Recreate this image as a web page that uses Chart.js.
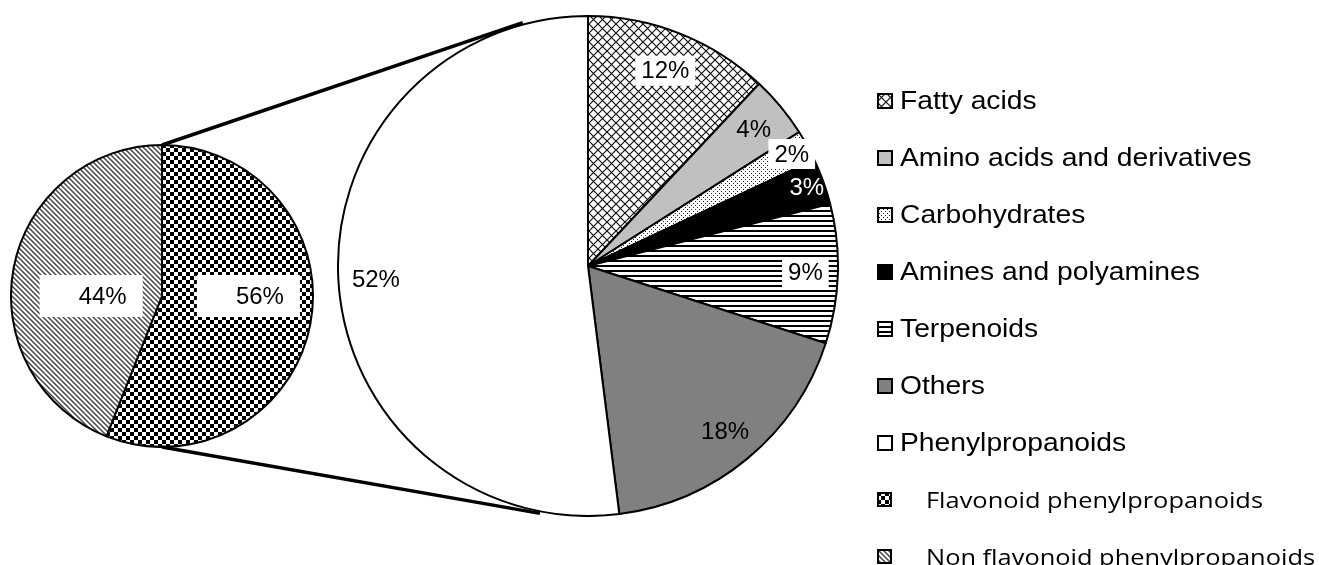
<!DOCTYPE html>
<html>
<head>
<meta charset="utf-8">
<script src="https://cdn.jsdelivr.net/npm/chart.js@4.4.1/dist/chart.umd.min.js"></script>
<style>
html, body { margin: 0; padding: 0; background: #fff; }
#wrap { position: relative; width: 1319px; height: 565px; overflow: hidden; font-family: "Liberation Sans", Arial, sans-serif; }
.pie { position: absolute; }
#lines { position: absolute; left: 0; top: 0; pointer-events: none; }
#legend { position: absolute; left: 877px; top: 72px; margin: 0; padding: 0; list-style: none; }
#legend li { height: 57px; display: flex; align-items: center; white-space: nowrap; }
#legend canvas { display: block; }
#legend .main span { display: inline-block; margin-left: 7px; font-size: 25px; transform: scaleX(1.13); transform-origin: left center; color: #000; }
#legend .sub span { display: inline-block; margin-left: 34px; font-family: "Open Sans", sans-serif; font-size: 21px; transform: scaleX(1.21); transform-origin: left center; color: #000; }
</style>
</head>
<body>
<div id="wrap">
  <div class="pie" style="left:10px;top:144px;width:304px;height:304px;"><canvas id="subChart"></canvas></div>
  <div class="pie" style="left:337px;top:15px;width:502px;height:502px;"><canvas id="mainChart"></canvas></div>
  <canvas id="lines" width="1319" height="565"></canvas>
  <ul id="legend"></ul>
</div>
<script>
// main pie (share of metabolites, %)
const mainLabels = ['Fatty acids', 'Amino acids and derivatives', 'Carbohydrates', 'Amines and polyamines', 'Terpenoids', 'Others', 'Phenylpropanoids'];
const mainValues = [12, 4, 2, 3, 9, 18, 52];

// secondary pie: split of phenylpropanoids (%)
const subLabels = ['Flavonoid phenylpropanoids', 'Non flavonoid phenylpropanoids'];
const subValues = [56, 44];

// fill patterns, same order as the labels
function makePattern(kind) {
    const c = document.createElement('canvas');
    const s = { cross: 9, dots: 4, hstripe: 5, checker: 8, diag: 5 }[kind];
    c.width = s; c.height = s;
    const g = c.getContext('2d');
    g.fillStyle = '#fff';
    g.fillRect(0, 0, s, s);
    g.fillStyle = '#000';
    if (kind === 'cross') {
        g.strokeStyle = '#111';
        g.lineWidth = 1.2;
        g.beginPath();
        g.moveTo(0, 0); g.lineTo(s, s);
        g.moveTo(s, 0); g.lineTo(0, s);
        g.stroke();
    } else if (kind === 'dots') {
        g.fillStyle = '#222';
        g.fillRect(0, 0, 1, 1);
        g.fillRect(2, 2, 1, 1);
    } else if (kind === 'hstripe') {
        g.fillRect(0, 0, s, 2);
    } else if (kind === 'checker') {
        g.fillRect(0, 0, 4, 4);
        g.fillRect(4, 4, 4, 4);
    } else if (kind === 'diag') {
        g.strokeStyle = '#444';
        g.lineWidth = 1.5;
        g.beginPath();
        for (let k = -1; k <= 1; k++) {
            g.moveTo(-1, k * s - 1);
            g.lineTo(s + 1, k * s + s + 1);
        }
        g.stroke();
    }
    return g.createPattern(c, 'repeat');
}

const mainFills = [makePattern('cross'), '#c0c0c0', makePattern('dots'), '#000000', makePattern('hstripe'), '#808080', '#ffffff'];
const subFills = [makePattern('checker'), makePattern('diag')];

// label placement along each slice (fraction of radius) and styling
const mainLabelRadius = [0.84, 0.86, 0.93, 0.93, 0.87, 0.86, 0.85];
const mainLabelBox = [true, false, true, false, true, false, false];
const mainLabelColor = ['#000', '#000', '#000', '#fff', '#000', '#000', '#000'];
const subLabelRadius = [0.66, 0.40];

function pctLabels(cfg) {
    return {
        id: 'pctLabels',
        afterDatasetsDraw(chart) {
            const ctx = chart.ctx;
            const meta = chart.getDatasetMeta(0);
            const vals = chart.data.datasets[0].data;
            ctx.save();
            ctx.font = '24px "Liberation Sans", Arial, sans-serif';
            ctx.textAlign = 'center';
            ctx.textBaseline = 'middle';
            meta.data.forEach((arc, i) => {
                const p = arc.getProps(['x', 'y', 'startAngle', 'endAngle', 'outerRadius'], true);
                const mid = (p.startAngle + p.endAngle) / 2;
                const r = p.outerRadius * cfg.radius[i];
                const x = p.x + Math.cos(mid) * r;
                const y = cfg.flat ? p.y : p.y + Math.sin(mid) * r;
                const text = vals[i] + '%';
                const w = ctx.measureText(text).width;
                if (cfg.box[i]) {
                    ctx.fillStyle = '#fff';
                    ctx.fillRect(x - w / 2 - cfg.padL, y - cfg.boxH / 2, w + cfg.padL + cfg.padR, cfg.boxH);
                }
                ctx.fillStyle = cfg.color[i];
                ctx.fillText(text, x, y + 1);
            });
            ctx.restore();
        }
    };
}

const baseOptions = {
    responsive: true,
    maintainAspectRatio: false,
    animation: false,
    layout: { padding: 0 },
    plugins: { legend: { display: false }, tooltip: { enabled: false } },
    events: []
};

const subChart = new Chart(document.getElementById('subChart'), {
    type: 'pie',
    data: {
        labels: subLabels,
        datasets: [{ data: subValues, backgroundColor: subFills, borderColor: '#000', borderWidth: 2, hoverOffset: 0 }]
    },
    options: baseOptions,
    plugins: [pctLabels({ radius: subLabelRadius, box: [true, true], color: ['#000', '#000'], flat: true, padL: 39, padR: 16, boxH: 42 })]
});

const mainChart = new Chart(document.getElementById('mainChart'), {
    type: 'pie',
    data: {
        labels: mainLabels,
        datasets: [{ data: mainValues, backgroundColor: mainFills, borderColor: '#000', borderWidth: 2, hoverOffset: 0 }]
    },
    options: baseOptions,
    plugins: [pctLabels({ radius: mainLabelRadius, box: mainLabelBox, color: mainLabelColor, flat: false, padL: 6, padR: 6, boxH: 30 })]
});

// connector lines between the two pies
function drawConnectors() {
    const wrap = document.getElementById('wrap').getBoundingClientRect();
    const sa = subChart.canvas.getBoundingClientRect();
    const ma = mainChart.canvas.getBoundingClientRect();
    const s = subChart.getDatasetMeta(0).data[0];
    const m = mainChart.getDatasetMeta(0).data[0];
    const sx = sa.left - wrap.left + s.x, sy = sa.top - wrap.top + s.y, sr = s.outerRadius;
    const mx = ma.left - wrap.left + m.x, my = ma.top - wrap.top + m.y, mr = m.outerRadius + 2;
    const deg = Math.PI / 180;
    const topA = -90 - 15, botA = -90 + 191;
    const ctx = document.getElementById('lines').getContext('2d');
    ctx.strokeStyle = '#000';
    ctx.lineWidth = 3.5;
    ctx.beginPath();
    ctx.moveTo(sx, sy - sr);
    ctx.lineTo(mx + Math.cos(topA * deg) * mr, my + Math.sin(topA * deg) * mr);
    ctx.moveTo(sx, sy + sr);
    ctx.lineTo(mx + Math.cos(botA * deg) * mr, my + Math.sin(botA * deg) * mr);
    ctx.stroke();
}
drawConnectors();

// legend
function addLegendItem(label, fill, cls, size) {
    const li = document.createElement('li');
    li.className = cls;
    const sw = document.createElement('canvas');
    sw.width = size; sw.height = size;
    const g = sw.getContext('2d');
    g.fillStyle = fill;
    g.fillRect(0, 0, size, size);
    g.strokeStyle = '#000';
    g.lineWidth = 2;
    g.strokeRect(1, 1, size - 2, size - 2);
    li.appendChild(sw);
    const span = document.createElement('span');
    span.textContent = label;
    li.appendChild(span);
    document.getElementById('legend').appendChild(li);
}
mainLabels.forEach((l, i) => addLegendItem(l, mainFills[i], 'main', 16));
subLabels.forEach((l, i) => addLegendItem(l, subFills[i], 'sub', 15));
</script>
</body>
</html>
